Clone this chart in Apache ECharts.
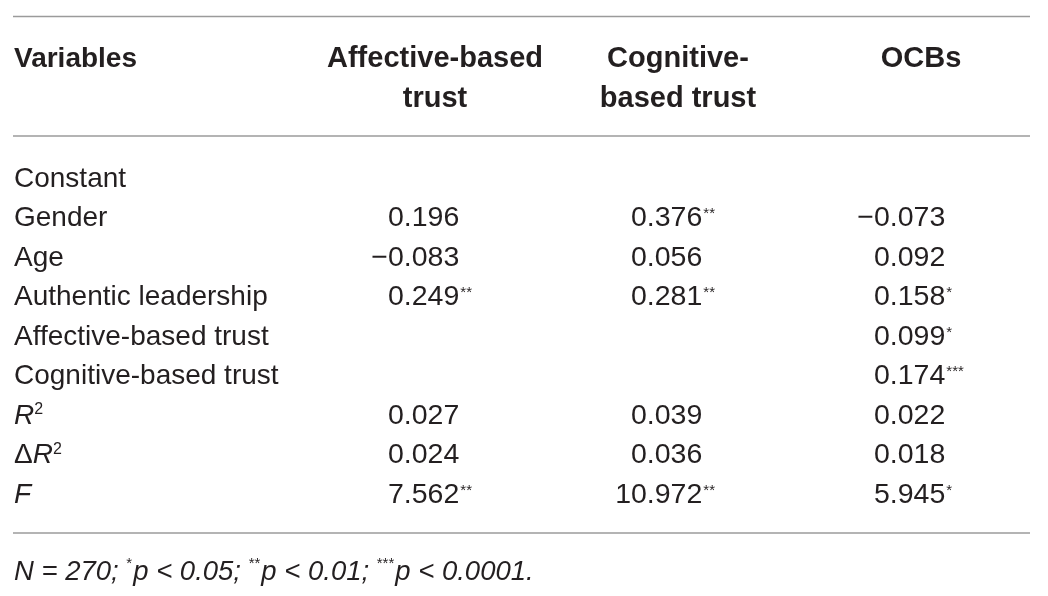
<!DOCTYPE html>
<html lang="en">
<head>
    <meta charset="UTF-8">
    <title>Regression table</title>
    <script src="https://cdn.jsdelivr.net/npm/echarts@6/dist/echarts.min.js"></script>
    <style>
        html, body { margin: 0; padding: 0; background: #fff; }
    </style>
</head>
<body>
<div id="table" style="width: 1048px;height:596px;"></div>
<script>
    // table content
    const columns = ['Affective-based\ntrust', 'Cognitive-\nbased trust', 'OCBs'];
    const rowLabels = ['Constant', 'Gender', 'Age', 'Authentic leadership', 'Affective-based trust',
        'Cognitive-based trust', 'R2', 'ΔR2', 'F'];
    const affective = ['', '0.196', '−0.083', '0.249', '', '', '0.027', '0.024', '7.562'];
    const affectiveStars = ['', '', '', '**', '', '', '', '', '**'];
    const cognitive = ['', '0.376', '0.056', '0.281', '', '', '0.039', '0.036', '10.972'];
    const cognitiveStars = ['', '**', '', '**', '', '', '', '', '**'];
    const ocbs = ['', '−0.073', '0.092', '0.158', '0.099', '0.174', '0.022', '0.018', '5.945'];
    const ocbsStars = ['', '', '', '*', '*', '***', '', '', '*'];

    const ink = '#231f20';
    const font = '"Liberation Sans", Arial, Helvetica, sans-serif';

    // flatten the columns into cells
    const cells = [];
    [[affective, affectiveStars], [cognitive, cognitiveStars], [ocbs, ocbsStars]].forEach((col, c) => {
        col[0].forEach((v, r) => {
            if (v !== '') cells.push({col: c, row: r, text: v, stars: col[1][r]});
        });
    });

    function rowLabel(v) {
        if (v === 'R2') return '{it|R}{sup|2}';
        if (v === 'ΔR2') return '{n|Δ}{it|R}{sup|2}';
        if (v === 'F') return '{it|F}';
        return '{n|' + v + '}';
    }

    let chart = echarts.init(document.getElementById('table'));
    chart.setOption({
        animation: false,
        title: [{
            text: 'Variables',
            left: 14,
            top: 45,
            padding: 0,
            textStyle: {fontFamily: font, fontSize: 28, fontWeight: 'bold', color: ink, lineHeight: 28}
        }, {
            text: '{i|N = 270; }{s|*}{i|p < 0.05; }{s|**}{i|p < 0.01; }{s|***}{i|p < 0.0001.}',
            left: 14,
            top: 556,
            padding: 0,
            textStyle: {
                rich: {
                    i: {fontFamily: font, fontSize: 27.5, fontStyle: 'italic', fontWeight: 'normal', color: ink, lineHeight: 32},
                    s: {fontFamily: font, fontSize: 15, fontWeight: 'normal', color: ink, verticalAlign: 'top', lineHeight: 32, padding: [0, 1, 14, 0]}
                }
            }
        }],
        graphic: [
            {type: 'line', shape: {x1: 13, y1: 16.5, x2: 1030, y2: 16.5}, style: {stroke: '#9b9b9b', lineWidth: 1.5}},
            {type: 'line', shape: {x1: 13, y1: 136, x2: 1030, y2: 136}, style: {stroke: '#9b9b9b', lineWidth: 1.5}},
            {type: 'line', shape: {x1: 13, y1: 533, x2: 1030, y2: 533}, style: {stroke: '#9b9b9b', lineWidth: 1.5}}
        ],
        grid: {left: 313.5, right: 5.5, top: 159.25, bottom: 81.25},
        xAxis: {
            type: 'category',
            position: 'top',
            data: columns,
            axisLine: {show: false},
            axisTick: {show: false},
            splitLine: {show: false},
            axisLabel: {
                interval: 0,
                margin: 120,
                verticalAlign: 'top',
                fontFamily: font,
                fontSize: 29,
                fontWeight: 'bold',
                lineHeight: 40,
                color: ink
            }
        },
        yAxis: {
            type: 'category',
            inverse: true,
            data: rowLabels,
            axisLine: {show: false},
            axisTick: {show: false},
            splitLine: {show: false},
            axisLabel: {
                interval: 0,
                align: 'left',
                margin: 299.5,
                formatter: rowLabel,
                rich: {
                    n: {fontFamily: font, fontSize: 28, color: ink},
                    it: {fontFamily: font, fontSize: 28, fontStyle: 'italic', color: ink},
                    sup: {fontFamily: font, fontSize: 16, color: ink, verticalAlign: 'top', padding: [0, 0, 12, 0]}
                }
            }
        },
        series: [{
            type: 'custom',
            data: cells.map(c => [c.col, c.row]),
            renderItem: function (params, api) {
                const cell = cells[params.dataIndex];
                const p = api.coord([api.value(0), api.value(1)]);
                const bw = api.size([1, 0])[0];
                const edge = p[0] + bw * 0.1;
                const children = [{
                    type: 'text',
                    style: {
                        x: edge, y: p[1], text: cell.text, align: 'right', verticalAlign: 'middle',
                        fontFamily: font, fontSize: 28.5, fill: ink
                    }
                }];
                if (cell.stars) {
                    children.push({
                        type: 'text',
                        style: {
                            x: edge + 1, y: p[1] - 12, text: cell.stars, align: 'left', verticalAlign: 'top',
                            fontFamily: font, fontSize: 15, fill: ink
                        }
                    });
                }
                return {type: 'group', children: children};
            }
        }]
    });
</script>
</body>
</html>
